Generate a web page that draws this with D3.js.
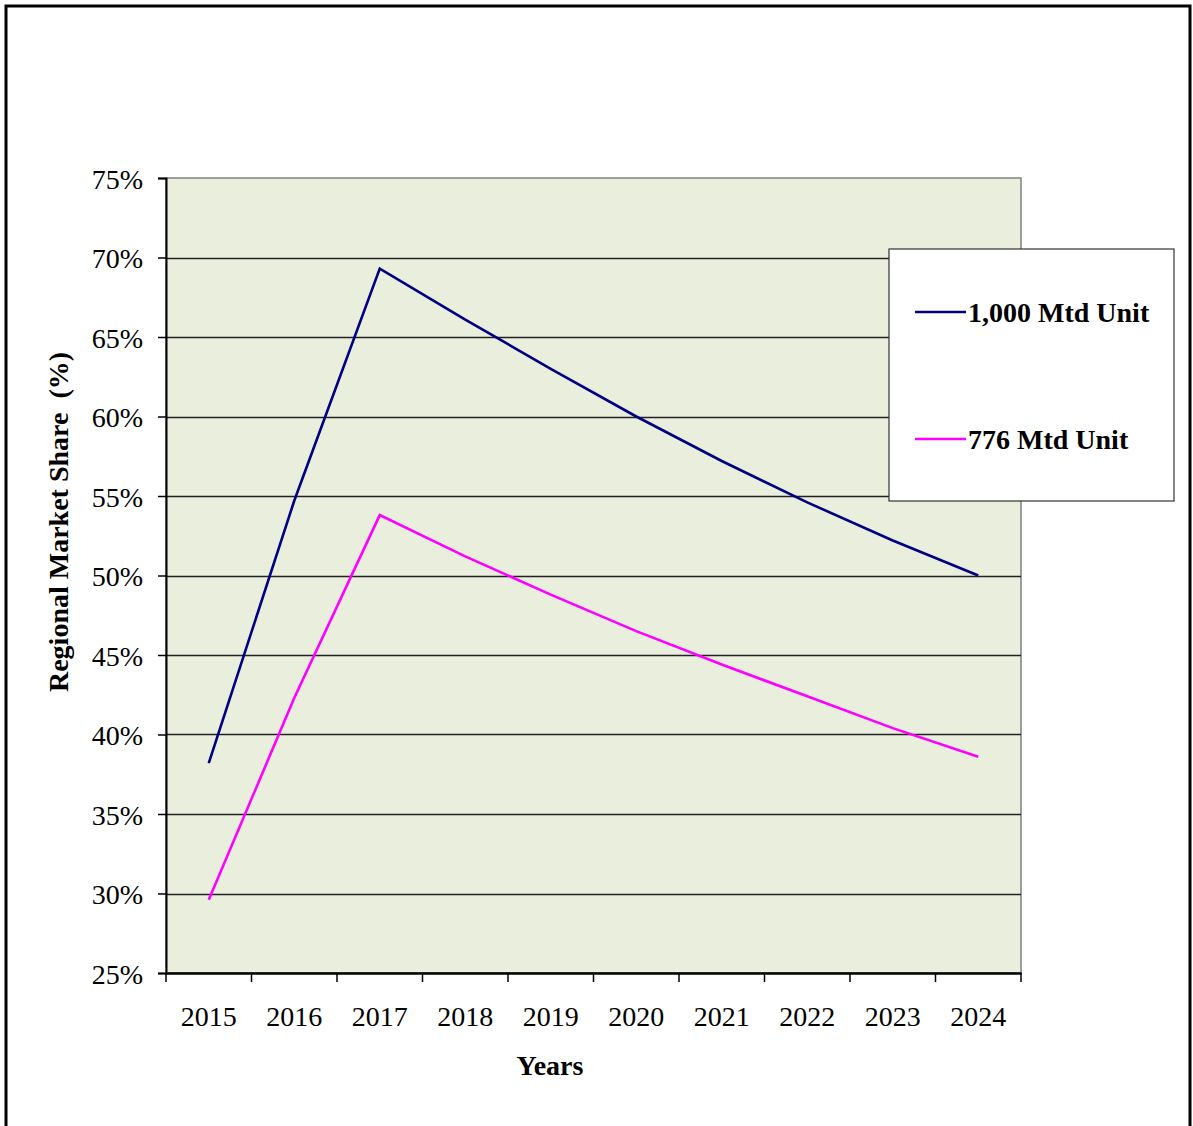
<!DOCTYPE html>
<meta charset="utf-8">
<script src="https://d3js.org/d3.v7.min.js"></script>
<style>
  body { margin: 0; background: #fff; }
  #chart text { font-family: "Liberation Serif", "Times New Roman", serif; fill: #000; }
</style>
<div id="chart"></div>
<script>
// data
var years = ["2015", "2016", "2017", "2018", "2019", "2020", "2021", "2022", "2023", "2024"];
var unit1000 = [0.382, 0.547, 0.693, 0.661, 0.630, 0.600, 0.572, 0.546, 0.522, 0.500];
var unit776 = [0.296, 0.423, 0.538, 0.512, 0.488, 0.465, 0.444, 0.424, 0.404, 0.386];
var yTicks = [0.25, 0.30, 0.35, 0.40, 0.45, 0.50, 0.55, 0.60, 0.65, 0.70, 0.75];
var seriesNames = ["1,000 Mtd Unit", "776 Mtd Unit"];
var seriesColors = ["#000080", "#ff00ff"];

var W = 1193, H = 1126;
var plot = { left: 166, top: 178, right: 1021, bottom: 973 };

var svg = d3.select("#chart").append("svg")
    .attr("width", W)
    .attr("height", H);

// outer frame
svg.append("rect")
    .attr("x", 6).attr("y", 6)
    .attr("width", 1184).attr("height", 1140)
    .attr("fill", "#fff")
    .attr("stroke", "#000")
    .attr("stroke-width", 3);

var x = d3.scaleBand()
    .domain(years)
    .range([plot.left, plot.right])
    .padding(0);

var y = d3.scaleLinear()
    .domain([0.25, 0.75])
    .range([plot.bottom, plot.top]);

// plot background
svg.append("rect")
    .attr("x", plot.left).attr("y", plot.top)
    .attr("width", plot.right - plot.left)
    .attr("height", plot.bottom - plot.top)
    .attr("fill", "#eaeedd")
    .attr("stroke", "#808080")
    .attr("stroke-width", 1.5);

// gridlines
svg.append("g")
    .selectAll("line")
    .data(yTicks.slice(1, -1))
    .join("line")
    .attr("x1", plot.left).attr("x2", plot.right)
    .attr("y1", function(d) { return Math.round(y(d)) + 0.5; })
    .attr("y2", function(d) { return Math.round(y(d)) + 0.5; })
    .attr("stroke", "#222")
    .attr("stroke-width", 1.3);

// y axis
var yAxis = svg.append("g")
    .attr("transform", "translate(" + plot.left + ",0)")
    .call(d3.axisLeft(y).tickValues(yTicks).tickFormat(d3.format(".0%")).tickSize(8).tickPadding(15));
yAxis.select(".domain").attr("stroke", "#000").attr("stroke-width", 2);
yAxis.selectAll(".tick line").attr("stroke", "#000").attr("stroke-width", 1.5);
yAxis.selectAll("text")
    .attr("font-size", "28px")
    .attr("fill", "#111")
    .attr("dy", "0.36em");

// x axis
var xAxis = svg.append("g")
    .attr("transform", "translate(0," + plot.bottom + ")")
    .call(d3.axisBottom(x).tickSize(0).tickPadding(33));
xAxis.select(".domain").attr("stroke", "#000").attr("stroke-width", 2.5);
xAxis.selectAll("text")
    .attr("font-size", "28px")
    .attr("fill", "#111");

// tick marks between categories
svg.append("g")
    .selectAll("line")
    .data(years.concat(["end"]))
    .join("line")
    .attr("x1", function(d, i) { return i < years.length ? x(d) : plot.right; })
    .attr("x2", function(d, i) { return i < years.length ? x(d) : plot.right; })
    .attr("y1", plot.bottom)
    .attr("y2", plot.bottom + 9)
    .attr("stroke", "#000")
    .attr("stroke-width", 1.5);

// axis titles
svg.append("text")
    .attr("transform", "translate(68,522) rotate(-90)")
    .attr("font-size", "28px")
    .attr("font-weight", "bold")
    .attr("text-anchor", "middle")
    .attr("xml:space", "preserve")
    .style("white-space", "pre")
    .text("Regional Market Share  (%)");

svg.append("text")
    .attr("x", 550).attr("y", 1075)
    .attr("font-size", "28px")
    .attr("font-weight", "bold")
    .attr("text-anchor", "middle")
    .text("Years");

// lines
var line = d3.line()
    .x(function(d, i) { return x(years[i]) + x.bandwidth() / 2; })
    .y(function(d) { return y(d); });

[unit1000, unit776].forEach(function(vals, k) {
  svg.append("path")
      .datum(vals)
      .attr("fill", "none")
      .attr("stroke", seriesColors[k])
      .attr("stroke-width", 2.6)
      .attr("stroke-linejoin", "miter")
      .attr("d", line);
});

// legend
var legend = svg.append("g").attr("transform", "translate(889,249)");
legend.append("rect")
    .attr("width", 285).attr("height", 252)
    .attr("fill", "#fff")
    .attr("stroke", "#333")
    .attr("stroke-width", 1.2);

var items = legend.selectAll("g.item")
    .data(seriesNames)
    .join("g")
    .attr("class", "item")
    .attr("transform", function(d, i) { return "translate(0," + (63 + i * 127) + ")"; });
items.append("line")
    .attr("x1", 26).attr("x2", 77)
    .attr("stroke", function(d, i) { return seriesColors[i]; })
    .attr("stroke-width", 2.6);
items.append("text")
    .attr("x", 79).attr("y", 10)
    .attr("font-size", "28px")
    .attr("font-weight", "bold")
    .text(function(d) { return d; });
</script>
